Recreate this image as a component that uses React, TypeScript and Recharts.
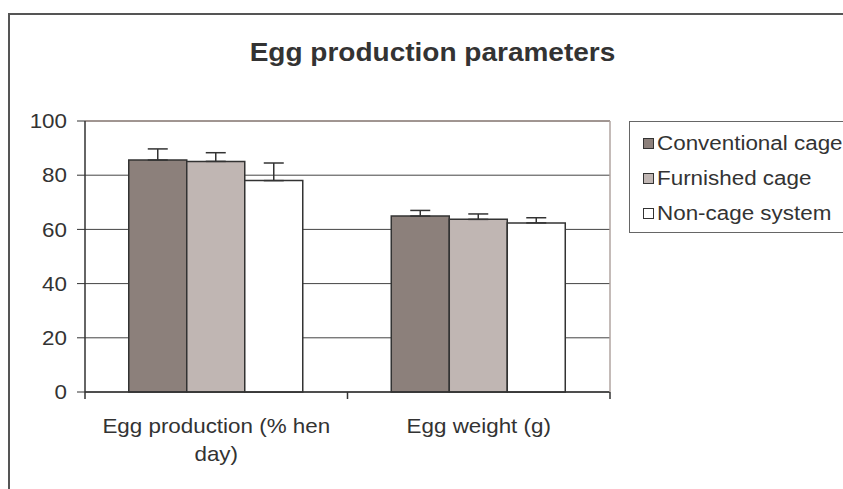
import { Bar, BarChart, CartesianGrid, ErrorBar, ReferenceLine, XAxis, YAxis } from "recharts";

const categories = ["Egg production (% hen day)", "Egg weight (g)"];
const seriesNames = ["Conventional cage", "Furnished cage", "Non-cage system"];
const conventional = [85.6, 64.9];
const conventionalErr = [4.1, 2.1];
const furnished = [85.1, 63.7];
const furnishedErr = [3.2, 2.0];
const nonCage = [78.0, 62.4];
const nonCageErr = [6.5, 1.9];
const yTicks = [0, 20, 40, 60, 80, 100];

const COLORS = ["#8c807b", "#c0b6b3", "#ffffff"];
const FONT = '"Liberation Sans", Arial, sans-serif';
const TEXT = "#333";
const STRETCH = 1.12;

const data = categories.map((name, i) => ({
  name,
  conv: conventional[i],
  convErr: [0, conventionalErr[i]],
  furn: furnished[i],
  furnErr: [0, furnishedErr[i]],
  non: nonCage[i],
  nonErr: [0, nonCageErr[i]],
}));

function wrap(text: string, max: number) {
  const lines: string[] = [];
  let cur = "";
  for (const w of text.split(" ")) {
    const next = cur ? cur + " " + w : w;
    if (next.length > max && cur) {
      lines.push(cur);
      cur = w;
    } else cur = next;
  }
  if (cur) lines.push(cur);
  return lines;
}

function YTick({ x, y, payload }: any) {
  return (
    <g transform={`translate(${x},${y})`}>
      <text transform={`scale(${STRETCH},1)`} textAnchor="end" dy="0.36em" fontSize={20} fill={TEXT} fontFamily={FONT}>
        {payload.value}
      </text>
    </g>
  );
}

// tick marks sit on the category boundaries, not the centres
function XTick({ x, y, payload, index, visibleTicksCount }: any) {
  const half = payload.offset ?? 131.25;
  const axisY = y - 8;
  const lines = wrap(String(payload.value), 21);
  const isLast = index === (visibleTicksCount ?? categories.length) - 1;
  return (
    <g>
      <line x1={x - half} x2={x - half} y1={axisY} y2={axisY + 7} stroke="#333" strokeWidth={1.5} />
      {isLast && <line x1={x + half} x2={x + half} y1={axisY} y2={axisY + 7} stroke="#333" strokeWidth={1.5} />}
      <g transform={`translate(${x},${axisY})`}>
        <text transform={`scale(${STRETCH},1)`} textAnchor="middle" fontSize={20} fill={TEXT} fontFamily={FONT}>
          {lines.map((l, i) => (
            <tspan key={i} x={0} y={41 + i * 28}>
              {l}
            </tspan>
          ))}
        </text>
      </g>
    </g>
  );
}

export default function App() {
  return (
    <div style={{ position: "fixed", left: 0, top: 0, width: 843, height: 489, overflow: "hidden", background: "#fff", fontFamily: FONT }}>
      <div style={{ position: "absolute", left: 8, top: 13, width: 900, height: 600, border: "2px solid #555" }} />
      <div
        style={{
          position: "absolute",
          left: 0,
          width: 843,
          top: 37,
          textAlign: "center",
          fontSize: 25,
          fontWeight: "bold",
          color: TEXT,
          lineHeight: "30px",
          transform: `translateX(11px) scale(${STRETCH},1)`,
        }}
      >
        Egg production parameters
      </div>
      <div style={{ position: "absolute", left: 0, top: 0 }}>
        <BarChart width={843} height={489} data={data} margin={{ top: 121, right: 232, left: 0, bottom: 0 }} barCategoryGap="16.67%" barGap={0}>
          <CartesianGrid yAxisId="l" horizontal vertical={false} stroke="#444" strokeWidth={1} />
          <XAxis dataKey="name" height={97} axisLine={{ stroke: "#333", strokeWidth: 1.5 }} tickLine={false} tick={<XTick />} interval={0} />
          <YAxis
            yAxisId="l"
            width={85}
            domain={[0, 100]}
            ticks={yTicks}
            axisLine={{ stroke: "#333", strokeWidth: 1.5 }}
            tickLine={{ stroke: "#333", strokeWidth: 1 }}
            tickSize={8}
            tickMargin={10}
            tick={<YTick />}
          />
          <YAxis yAxisId="r" orientation="right" width={1} domain={[0, 100]} tick={false} tickLine={false} axisLine={{ stroke: "#b0a5a1", strokeWidth: 1.5 }} />
          <ReferenceLine yAxisId="l" y={100} stroke="#a0928d" strokeWidth={1.5} />
          <Bar yAxisId="l" dataKey="conv" name={seriesNames[0]} fill={COLORS[0]} stroke="#333" strokeWidth={1.5} isAnimationActive={false}>
            <ErrorBar dataKey="convErr" width={10} stroke="#333" strokeWidth={1.5} direction="y" />
          </Bar>
          <Bar yAxisId="l" dataKey="furn" name={seriesNames[1]} fill={COLORS[1]} stroke="#333" strokeWidth={1.5} isAnimationActive={false}>
            <ErrorBar dataKey="furnErr" width={10} stroke="#333" strokeWidth={1.5} direction="y" />
          </Bar>
          <Bar yAxisId="l" dataKey="non" name={seriesNames[2]} fill={COLORS[2]} stroke="#333" strokeWidth={1.5} isAnimationActive={false}>
            <ErrorBar dataKey="nonErr" width={10} stroke="#333" strokeWidth={1.5} direction="y" />
          </Bar>
        </BarChart>
      </div>
      <div style={{ position: "absolute", left: 629, top: 121, width: 260, height: 112, border: "1px solid #666", boxSizing: "border-box" }}>
        {seriesNames.map((s, i) => (
          <div key={s} style={{ position: "absolute", left: 13, top: 9 + i * 35, height: 24, display: "flex", alignItems: "center" }}>
            <span style={{ width: 11, height: 11, background: COLORS[i], border: "1px solid #333", boxSizing: "border-box", flex: "none" }} />
            <span
              style={{
                marginLeft: 3,
                fontSize: 20,
                color: TEXT,
                whiteSpace: "nowrap",
                transform: `scale(${STRETCH},1)`,
                transformOrigin: "left center",
                display: "inline-block",
              }}
            >
              {s}
            </span>
          </div>
        ))}
      </div>
    </div>
  );
}
